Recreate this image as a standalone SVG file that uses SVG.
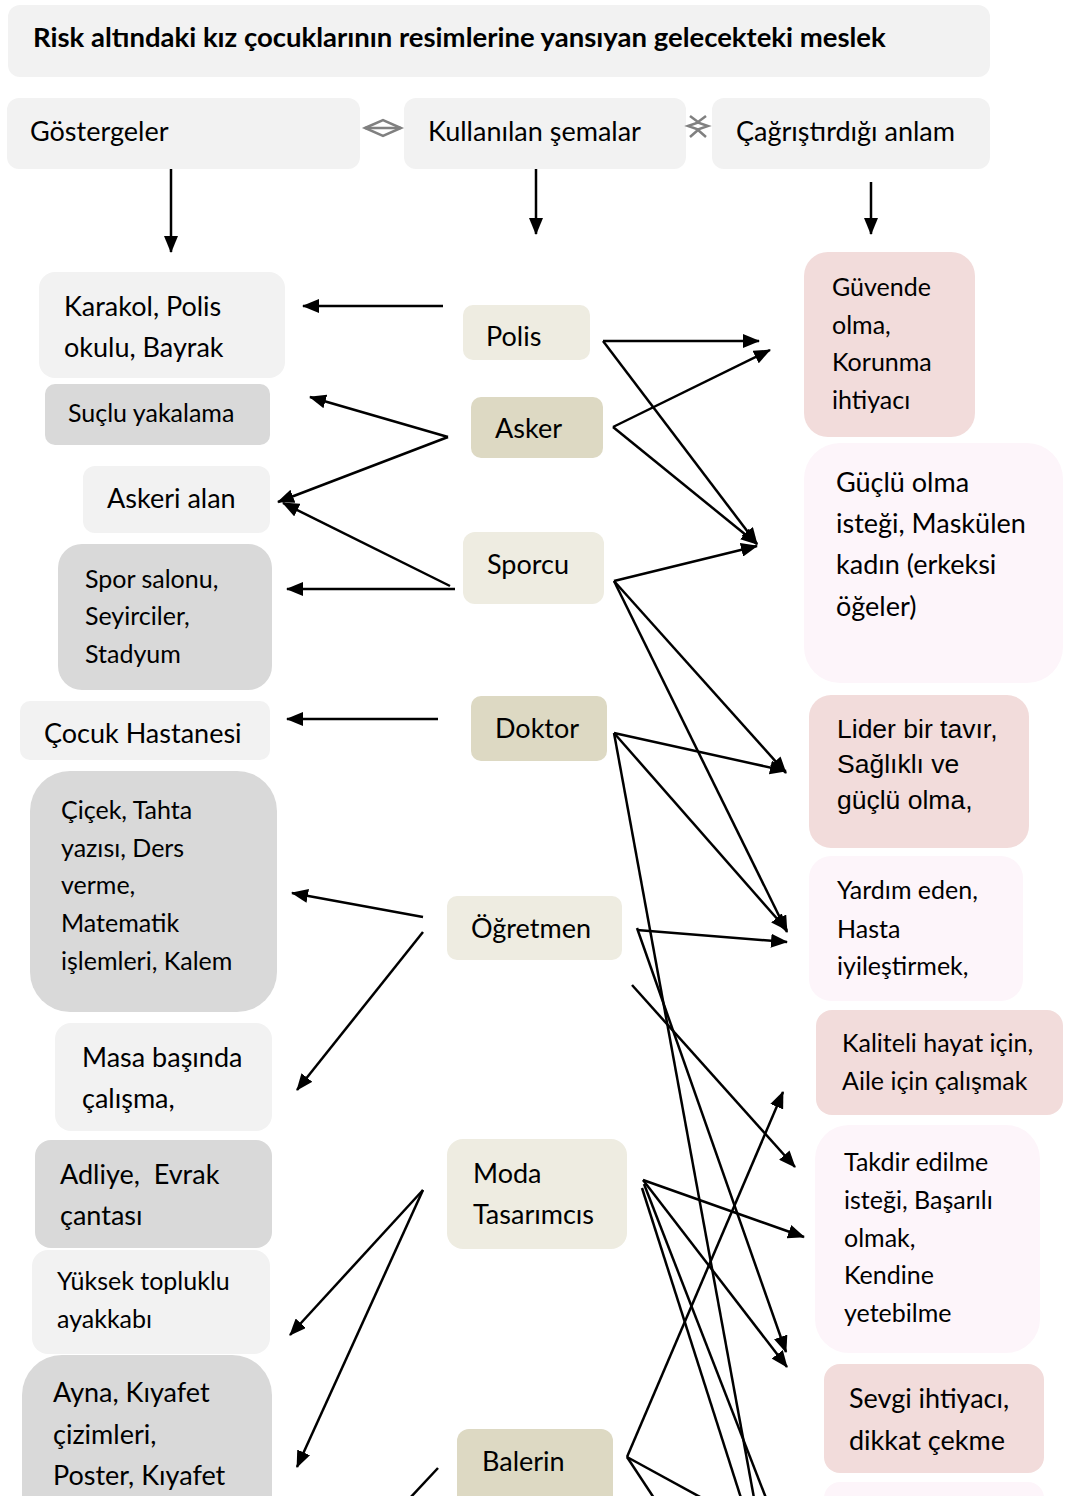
<svg xmlns="http://www.w3.org/2000/svg" width="1065" height="1496" viewBox="0 0 1065 1496">
<style>
text{font-family:Lato,"Open Sans","Liberation Sans",sans-serif;fill:#000}
.l{font-size:27px}
.s{font-size:25px}
.a{font-family:"Liberation Sans",Arial,sans-serif;font-size:26.5px}
.ttl{font-size:27.5px;font-weight:bold}
.g1{fill:#f2f2f2}
.g2{fill:#d9d9d9}
.b1{fill:#eeece1}
.b2{fill:#ddd9c3}
.p1{fill:#f2dcdb}
.p2{fill:#fdf5fa}
.c line,.c polyline{stroke:#000;stroke-width:2.5;fill:none}
.c .ar{marker-end:url(#ah)}
</style>
<defs>
<marker id="ah" markerUnits="userSpaceOnUse" markerWidth="18" markerHeight="14" refX="16" refY="7" orient="auto">
<path d="M0,0 L17,7 L0,14 z" fill="#000"/>
</marker>
</defs>
<rect width="1065" height="1496" fill="#fff"/>

<g id="title"><rect class="g1" x="8" y="5" width="982" height="72" rx="12"/>
<text class="ttl" x="33" y="47">Risk altındaki kız çocuklarının resimlerine yansıyan gelecekteki meslek</text></g>

<g id="h-gostergeler"><rect class="g1" x="7" y="98" width="353" height="71" rx="12"/><text class="l" x="30" y="141">Göstergeler</text></g>
<g id="h-semalar"><rect class="g1" x="404" y="98" width="282" height="71" rx="12"/><text class="l" x="428" y="141">Kullanılan şemalar</text></g>
<g id="h-anlam"><rect class="g1" x="712" y="98" width="278" height="71" rx="12"/><text class="l" x="736" y="141">Çağrıştırdığı anlam</text></g>

<g id="sym1" stroke="#808080" stroke-width="2.5" fill="none">
<polygon points="365,128 383,120 401,128 383,136"/><line x1="365" y1="128" x2="401" y2="128"/></g>
<g id="sym2" stroke="#808080" stroke-width="2.5" fill="none">
<polyline points="690,116 698,122 706,116"/><polygon points="688,126 698,122.5 708,126 698,129.5"/><polyline points="690,137 698,130 706,137"/></g>

<!-- left column -->
<g id="n-karakol"><rect class="g1" x="39" y="272" width="246" height="106" rx="16"/><text class="l" x="64" y="316">Karakol, Polis</text><text class="l" x="64" y="357">okulu, Bayrak</text></g>
<g id="n-suclu"><rect class="g2" x="45" y="384" width="225" height="61" rx="10"/><text class="s" x="68" y="422">Suçlu yakalama</text></g>
<g id="n-askeri"><rect class="g1" x="83" y="466" width="187" height="67" rx="12"/><text class="l" x="107" y="508">Askeri alan</text></g>
<g id="n-spor"><rect class="g2" x="58" y="544" width="214" height="146" rx="24"/><text class="s" x="85" y="588">Spor salonu,</text><text class="s" x="85" y="625">Seyirciler,</text><text class="s" x="85" y="663">Stadyum</text></g>
<g id="n-cocuk"><rect class="g1" x="20" y="701" width="250" height="59" rx="10"/><text class="l" x="44" y="743">Çocuk Hastanesi</text></g>
<g id="n-cicek"><rect class="g2" x="30" y="771" width="247" height="241" rx="40"/><text class="s" x="61" y="819">Çiçek, Tahta</text><text class="s" x="61" y="857">yazısı, Ders</text><text class="s" x="61" y="894">verme,</text><text class="s" x="61" y="932">Matematik</text><text class="s" x="61" y="970">işlemleri, Kalem</text></g>
<g id="n-masa"><rect class="g1" x="55" y="1023" width="217" height="108" rx="16"/><text class="l" x="82" y="1067">Masa başında</text><text class="l" x="82" y="1108">çalışma,</text></g>
<g id="n-adliye"><rect class="g2" x="35" y="1140" width="237" height="108" rx="16"/><text class="l" x="60" y="1184" xml:space="preserve">Adliye,  Evrak</text><text class="l" x="60" y="1225">çantası</text></g>
<g id="n-yuksek"><rect class="g1" x="32" y="1250" width="238" height="104" rx="16"/><text class="s" x="57" y="1290">Yüksek topluklu</text><text class="s" x="57" y="1328">ayakkabı</text></g>
<g id="n-ayna"><rect class="g2" x="22" y="1355" width="250" height="180" rx="40"/><text class="l" x="53" y="1402">Ayna, Kıyafet</text><text class="l" x="53" y="1444">çizimleri,</text><text class="l" x="53" y="1485">Poster, Kıyafet</text></g>

<!-- middle column -->
<g id="n-polis"><rect class="b1" x="463" y="305" width="127" height="55" rx="10"/><text class="l" x="486" y="346">Polis</text></g>
<g id="n-asker"><rect class="b2" x="471" y="397" width="132" height="61" rx="10"/><text class="l" x="495" y="438">Asker</text></g>
<g id="n-sporcu"><rect class="b1" x="463" y="532" width="141" height="72" rx="12"/><text class="l" x="487" y="574">Sporcu</text></g>
<g id="n-doktor"><rect class="b2" x="471" y="696" width="136" height="65" rx="10"/><text class="l" x="495" y="738">Doktor</text></g>
<g id="n-ogretmen"><rect class="b1" x="447" y="896" width="175" height="64" rx="10"/><text class="l" x="471" y="938">Öğretmen</text></g>
<g id="n-moda"><rect class="b1" x="447" y="1139" width="180" height="110" rx="16"/><text class="l" x="473" y="1183">Moda</text><text class="l" x="473" y="1224">Tasarımcıs</text></g>
<g id="n-balerin"><rect class="b2" x="457" y="1429" width="156" height="90" rx="12"/><text class="l" x="482" y="1471">Balerin</text></g>

<!-- right column -->
<g id="n-guvende"><rect class="p1" x="804" y="252" width="171" height="185" rx="24"/><text class="s" x="832" y="296">Güvende</text><text class="s" x="832" y="334">olma,</text><text class="s" x="832" y="371">Korunma</text><text class="s" x="832" y="409">ihtiyacı</text></g>
<g id="n-guclu"><rect class="p2" x="804" y="443" width="259" height="240" rx="36"/><text class="l" x="836" y="492">Güçlü olma</text><text class="l" x="836" y="533">isteği, Maskülen</text><text class="l" x="836" y="574">kadın (erkeksi</text><text class="l" x="836" y="616">öğeler)</text></g>
<g id="n-lider"><rect class="p1" x="809" y="695" width="220" height="153" rx="22"/><text class="a" x="837" y="738">Lider bir tavır,</text><text class="a" x="837" y="773">Sağlıklı ve</text><text class="a" x="837" y="809">güçlü olma,</text></g>
<g id="n-yardim"><rect class="p2" x="809" y="856" width="214" height="145" rx="22"/><text class="s" x="837" y="899">Yardım eden,</text><text class="s" x="837" y="938">Hasta</text><text class="s" x="837" y="975">iyileştirmek,</text></g>
<g id="n-kaliteli"><rect class="p1" x="816" y="1010" width="247" height="105" rx="16"/><text class="s" x="842" y="1052">Kaliteli hayat için,</text><text class="s" x="842" y="1090">Aile için çalışmak</text></g>
<g id="n-takdir"><rect class="p2" x="815" y="1125" width="225" height="228" rx="34"/><text class="s" x="844" y="1171">Takdir edilme</text><text class="s" x="844" y="1209">isteği, Başarılı</text><text class="s" x="844" y="1247">olmak,</text><text class="s" x="844" y="1284">Kendine</text><text class="s" x="844" y="1322">yetebilme</text></g>
<g id="n-sevgi"><rect class="p1" x="824" y="1364" width="220" height="109" rx="16"/><text class="l" x="849" y="1408">Sevgi ihtiyacı,</text><text class="l" x="849" y="1450">dikkat çekme</text></g>
<g id="n-next"><rect class="p2" x="824" y="1482" width="220" height="60" rx="16"/></g>

<g id="connectors" class="c">
<line class="ar" x1="171" y1="169" x2="171" y2="252"/>
<line class="ar" x1="536" y1="169" x2="536" y2="234"/>
<line class="ar" x1="871" y1="182" x2="871" y2="234"/>

<line class="ar" x1="443" y1="306" x2="303" y2="306"/>
<line class="ar" x1="448" y1="437" x2="310" y2="397"/>
<line class="ar" x1="448" y1="437" x2="278" y2="502"/>
<line class="ar" x1="450" y1="586" x2="283" y2="503"/>
<line class="ar" x1="455" y1="589" x2="287" y2="589"/>
<line class="ar" x1="438" y1="719" x2="287" y2="719"/>
<line class="ar" x1="423" y1="917" x2="292" y2="893"/>
<line class="ar" x1="423" y1="932" x2="297" y2="1090"/>
<line class="ar" x1="423" y1="1190" x2="290" y2="1335"/>
<line class="ar" x1="423" y1="1190" x2="297" y2="1467"/>
<line x1="438" y1="1468" x2="410" y2="1498"/>

<line class="ar" x1="603" y1="341" x2="759" y2="341"/>
<line class="ar" x1="603" y1="341" x2="757" y2="544"/>
<line class="ar" x1="613" y1="427" x2="770" y2="350"/>
<line class="ar" x1="613" y1="427" x2="757" y2="544"/>
<line class="ar" x1="614" y1="581" x2="757" y2="546"/>
<line class="ar" x1="614" y1="581" x2="786" y2="773"/>
<line class="ar" x1="614" y1="581" x2="787" y2="932"/>

<line class="ar" x1="614" y1="733" x2="786" y2="771"/>
<line class="ar" x1="614" y1="733" x2="787" y2="930"/>
<line x1="614" y1="733" x2="754" y2="1498"/>

<line class="ar" x1="637" y1="930" x2="787" y2="942"/>
<line class="ar" x1="637" y1="928" x2="786" y2="1352"/>
<line class="ar" x1="632" y1="985" x2="795" y2="1167"/>

<line class="ar" x1="643" y1="1180" x2="804" y2="1237"/>
<line class="ar" x1="643" y1="1180" x2="787" y2="1367"/>
<line x1="642" y1="1188" x2="741" y2="1498"/>
<line x1="644" y1="1184" x2="766" y2="1498"/>

<line class="ar" x1="627" y1="1457" x2="783" y2="1092"/>
<line x1="627" y1="1457" x2="654" y2="1498"/>
<line x1="627" y1="1457" x2="702" y2="1498"/>
</g>
</svg>
